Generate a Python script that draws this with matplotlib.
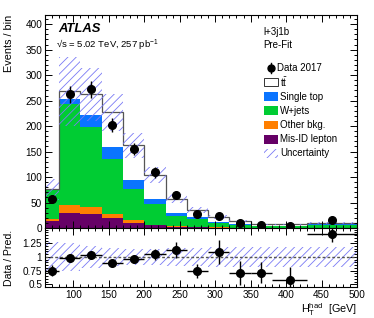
import numpy as np
import matplotlib
matplotlib.use("Agg")
import matplotlib.pyplot as plt
from matplotlib.patches import Rectangle
from matplotlib.ticker import MultipleLocator, FixedLocator, FixedFormatter

plt.rcParams['font.family'] = ['Liberation Sans', 'DejaVu Sans']
plt.rcParams['mathtext.fontset'] = 'custom'
plt.rcParams['mathtext.rm'] = 'Liberation Sans'
plt.rcParams['mathtext.it'] = 'Liberation Sans:italic'
plt.rcParams['mathtext.bf'] = 'Liberation Sans:bold'
plt.rcParams['hatch.linewidth'] = 0.6

# ---------------- data ----------------
bin_edges = [60, 80, 110, 140, 170, 200, 230, 260, 290, 320, 350, 380, 430, 500]
data = [57, 262, 272, 202, 155, 109, 65, 27, 24, 10, 5, 4, 15]
data_err = [7.5, 16, 16.5, 14, 12.5, 10.5, 8, 5.2, 4.9, 3.2, 2.2, 2.0, 3.9]
misid = [14, 29.5, 28, 19.6, 10.6, 5, 2, 1, 0.8, 0.5, 0.3, 0.2, 0.4]
other_bkg = [3, 15, 13, 7.4, 4.4, 1.7, 1, 0.5, 0.4, 0.3, 0.2, 0.2, 0.2]
wjets = [57, 198.5, 157, 108.6, 62, 40.3, 21, 15.5, 8.8, 5.7, 3.3, 2.9, 5.2]
single_top = [2, 11, 23, 23.4, 18, 10, 5.5, 5, 2, 1.5, 0.7, 0.7, 1.2]
ttbar = [0, 14, 41, 68, 67.5, 46.5, 28.2, 14, 10, 6, 2.5, 3, 3.6]
rel_unc = [0.27, 0.25, 0.20, 0.16, 0.15, 0.15, 0.16, 0.17, 0.18, 0.19, 0.19, 0.19, 0.19]
ratio_err = [0.10, 0.06, 0.06, 0.06, 0.07, 0.10, 0.14, 0.13, 0.22, 0.22, 0.20, 0.24, 0.15]
x_ticks = [100, 150, 200, 250, 300, 350, 400, 450, 500]
y_ticks = [0, 50, 100, 150, 200, 250, 300, 350, 400]
r_ticks = [0.5, 0.75, 1.0, 1.25]
r_tick_labels = ['0.5', '0.75', '1', '1.25']

# ---------------- colours ----------------
c_misid = '#660066'
c_other = '#ff7f00'
c_wjets = '#00cc33'
c_stop = '#0a74ff'
c_tt = 'white'
c_unc = '#7a7af5'
c_line = '#555555'

edges = np.array(bin_edges, dtype=float)
centers = 0.5 * (edges[:-1] + edges[1:])
half = 0.5 * (edges[1:] - edges[:-1])

fig = plt.figure(figsize=(3.74, 3.18), dpi=100)
ax = fig.add_axes([45/374, 1-228/318, 312/374, 213/318])
rx = fig.add_axes([45/374, 1-287/318, 312/374, 59/318], sharex=ax)

# stack
layers = [(misid, c_misid), (other_bkg, c_other), (wjets, c_wjets),
          (single_top, c_stop), (ttbar, c_tt)]
base = np.zeros(len(data))
for vals, col in layers:
    top = base + np.array(vals, dtype=float)
    ax.stairs(top, edges, baseline=base.copy(), fill=True, facecolor=col,
              edgecolor='none', linewidth=0)
    base = top
total = base
ax.stairs(total, edges, color=c_line, linewidth=0.9)

unc = np.array(rel_unc)
ax.stairs(total*(1+unc), edges, baseline=total*(1-unc), fill=True,
          facecolor='none', edgecolor=c_unc, hatch='////', linewidth=0)

ax.errorbar(centers, data, yerr=data_err, fmt='o', color='black', ms=5.5,
            elinewidth=1.0, capsize=0)

ax.set_xlim(60, 500)
ax.set_ylim(0, 418)

# ratio
ratio = np.array(data) / total
rx.stairs(1+unc, edges, baseline=1-unc, fill=True, facecolor='none',
          edgecolor=c_unc, hatch='////', linewidth=0)
rx.axhline(1.0, color=c_line, linestyle=(0, (2, 1.5)), linewidth=1.0)
rx.errorbar(centers, ratio, yerr=ratio_err, xerr=half, fmt='o', color='black',
            ms=5.5, elinewidth=1.0, capsize=0)
rx.set_ylim(0.45, 1.53)

# ticks
for a in (ax, rx):
    a.tick_params(which='both', direction='in', top=True, right=True,
                  labelsize=7.2, width=0.7, pad=2)
    a.tick_params(which='major', length=5)
    a.tick_params(which='minor', length=2.5)
    a.xaxis.set_major_locator(FixedLocator(x_ticks))
    a.xaxis.set_minor_locator(MultipleLocator(10))
    for s in a.spines.values():
        s.set_linewidth(0.8)
ax.yaxis.set_major_locator(FixedLocator(y_ticks))
ax.yaxis.set_minor_locator(MultipleLocator(10))
ax.tick_params(labelbottom=False)
rx.yaxis.set_major_locator(FixedLocator(r_ticks))
rx.yaxis.set_major_formatter(FixedFormatter(r_tick_labels))
rx.yaxis.set_minor_locator(MultipleLocator(0.05))

ax.set_ylabel('Events / bin', fontsize=7.8, loc='top', labelpad=6)
rx.set_ylabel('Data / Pred.', fontsize=7.6, labelpad=4)
rx.set_xlabel(r'$\mathrm{H}_{\mathrm{T}}^{\mathrm{had}}$  [GeV]', fontsize=7.8,
              loc='right', labelpad=1)
ax.yaxis.set_label_coords(-0.1, 1.0)
rx.yaxis.set_label_coords(-0.1, 0.5)

# texts
def axf(px, py):
    return ((px - 45) / 312, (228 - py) / 213)

ax.text(*axf(58, 32.5), 'ATLAS', transform=ax.transAxes, fontsize=9.4,
        fontweight='bold', fontstyle='italic', va='baseline', ha='left')
ax.text(*axf(56, 47.5), '\u221as = 5.02 TeV, 257 pb$^{\\mathrm{-1}}$',
        transform=ax.transAxes, fontsize=6.8, va='baseline', ha='left')
ax.text(*axf(263, 35), 'l+3j1b', transform=ax.transAxes, fontsize=7,
        va='baseline', ha='left')
ax.text(*axf(263, 48), 'Pre-Fit', transform=ax.transAxes, fontsize=7,
        va='baseline', ha='left')

# legend (manual)
rows = [68, 82, 96.5, 110.7, 125, 139.3, 153.3]
labels = ['Data 2017', r'$\mathrm{t\bar{t}}$', 'Single top', 'W+jets',
          'Other bkg.', 'Mis-ID lepton', 'Uncertainty']
bw, bh = 14/312, 8.6/213
for i, (py, lab) in enumerate(zip(rows, labels)):
    xf, yf = axf(264, py)
    if i == 0:
        mx, my = axf(270.5, py)
        ax.plot([mx], [my], 'o', color='black', ms=5, transform=ax.transAxes,
                clip_on=False)
        ax.plot([mx, mx], [my - 5/213, my + 5/213], color='black', lw=1,
                transform=ax.transAxes, clip_on=False)
        tx, _ = axf(277, py)
    else:
        tx, _ = axf(280, py)
        if i == 1:
            r = Rectangle((xf, yf - bh/2), bw, bh, facecolor='white',
                          edgecolor='#333333', lw=0.7, transform=ax.transAxes)
        elif i == 6:
            r = Rectangle((xf, yf - bh/2), bw, bh, facecolor='none',
                          edgecolor=c_unc, hatch='////', lw=0,
                          transform=ax.transAxes)
        else:
            col = [None, None, c_stop, c_wjets, c_other, c_misid][i]
            r = Rectangle((xf, yf - bh/2), bw, bh, facecolor=col,
                          edgecolor='none', transform=ax.transAxes)
        ax.add_patch(r)
    ax.text(tx, yf, lab, transform=ax.transAxes, fontsize=7, va='center',
            ha='left')

fig.savefig('out.png', dpi=100)
